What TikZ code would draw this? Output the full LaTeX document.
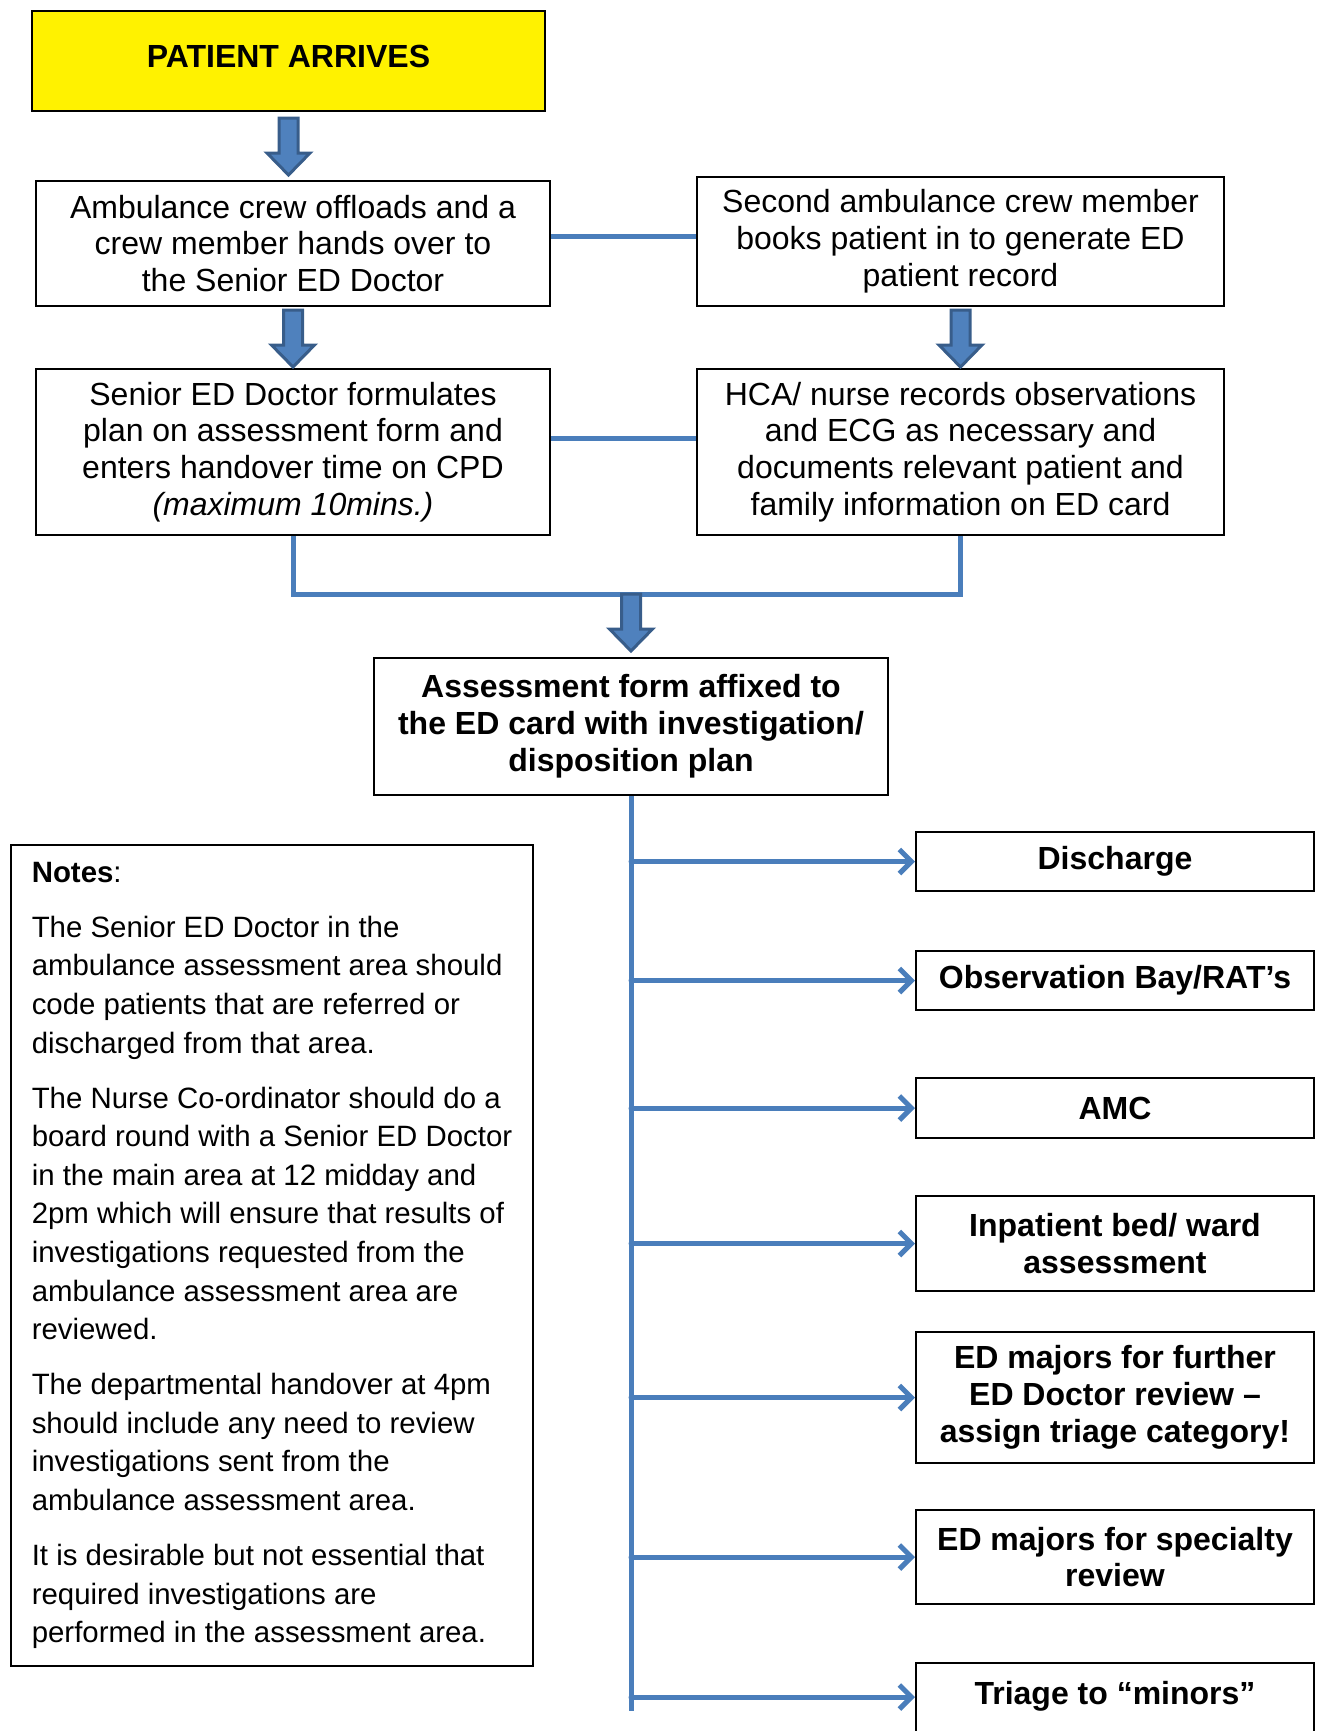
\documentclass[tikz,border=0pt]{standalone}
\usepackage{fontspec}
\setmainfont{Liberation Sans}
\usetikzlibrary{arrows.meta,positioning}

\definecolor{flowblue}{HTML}{4A7EBB}
\definecolor{arrowfill}{HTML}{4F81BD}
\definecolor{arrowline}{HTML}{385D8A}

\tikzset{
  box/.style={draw=black, line width=1pt, align=center, inner xsep=4pt, inner ysep=5.3pt,
    font=\fontsize{16}{18.4}\selectfont},
  outbox/.style={box, font=\bfseries\fontsize{16}{18.4}\selectfont, minimum width=199pt},
  link/.style={flowblue, line width=2.5pt},
  branch/.style={link, line cap=round, -{Straight Barb[length=6pt,width=12pt]}},
  downarrow/.pic={
    \filldraw[fill=arrowfill, draw=arrowline, line width=1.5pt, line join=miter]
      (-9.5,0) -- (9.5,0) -- (9.5,35) -- (21.5,35) -- (0,57) -- (-21.5,35) -- (-9.5,35) -- cycle;
  }
}

\begin{document}
\begin{tikzpicture}[x=0.5pt, y=-0.5pt]
        \clip (0,0) rectangle (1321,1731);

        % Top of the flow
        \node[box, fill=yellow, minimum width=256.5pt, minimum height=50pt,
              font=\bfseries\fontsize{16}{18.4}\selectfont] (arrive) at (288.5,61)
            {\raisebox{4.5pt}{PATIENT ARRIVES}};
        \node[box, minimum width=257pt, minimum height=62.5pt] (crew) at (293,243.5)
            {Ambulance crew offloads and a\\ crew member hands over to\\ the Senior ED Doctor};
        \node[box, minimum width=263.5pt, minimum height=64.5pt] (book) at (960.5,241.5)
            {Second ambulance crew member\\ books patient in to generate ED\\ patient record};
        \node[box, minimum width=257pt, minimum height=83pt] (plan) at (293,452)
            {Senior ED Doctor formulates\\ plan on assessment form and\\ enters handover time on CPD\\ \textit{(maximum 10mins.)}};
        \node[box, minimum width=263.5pt, minimum height=83pt] (obs) at (960.5,452)
            {HCA/ nurse records observations\\ and ECG as necessary and\\ documents relevant patient and\\ family information on ED card};
        \node[box, minimum width=257pt, minimum height=68.5pt,
              font=\bfseries\fontsize{16}{18.4}\selectfont] (form) at (631,726.5)
            {Assessment form affixed to\\ the ED card with investigation/\\ disposition plan};

        % Outcomes
        \node[outbox, minimum height=29.5pt] (dis) at (1115,861.5) {Discharge};
        \node[outbox, minimum height=29.5pt] (bay) at (1115,980.5) {Observation Bay/RAT’s};
        \node[outbox, minimum height=30pt] (amc) at (1115,1108) {AMC};
        \node[outbox, minimum height=47.5pt] (ward) at (1115,1243.5) {Inpatient bed/ ward\\ assessment};
        \node[outbox, minimum height=65.5pt] (majors) at (1115,1397.5)
            {ED majors for further\\ ED Doctor review –\\ assign triage category!};
        \node[outbox, minimum height=47pt] (spec) at (1115,1557) {ED majors for specialty\\ review};
        \node[outbox, minimum height=48pt] (minors) at (1115,1711) {Triage to “minors”\\ \mbox{}};

        % Notes
        \node[box, align=left, anchor=north west, minimum width=261pt, inner xsep=9pt,
              minimum height=410.5pt, font=\fontsize{14.7}{19.3}\selectfont] (notes) at (10,844)
            {\textbf{Notes}:\\[8.2pt]
             The Senior ED Doctor in the\\ ambulance assessment area should\\ code patients that are referred or\\ discharged from that area.\\[8.2pt]
             The Nurse Co-ordinator should do a\\ board round with a Senior ED Doctor\\ in the main area at 12 midday and\\ 2pm which will ensure that results of\\ investigations requested from the\\ ambulance assessment area are\\ reviewed.\\[8.2pt]
             The departmental handover at 4pm\\ should include any need to review\\ investigations sent from the\\ ambulance assessment area.\\[8.2pt]
             It is desirable but not essential that\\ required investigations are\\ performed in the assessment area.};

        % Block arrows
        \path (arrive.south) ++(0,6) pic {downarrow};
        \path (crew.south) ++(0,3) pic {downarrow};
        \path (book.south) ++(0,3) pic {downarrow};

        % Side links and merge
        \draw[link] ([yshift=3.75pt]crew.east) -- ([yshift=2.75pt]book.west);
        \draw[link] ([yshift=7pt]plan.east) -- ([yshift=7pt]obs.west);
        \draw[link] (plan.south) -- ++(0,58) coordinate (merge) -| (obs.south);
        \path (form.north |- merge) pic {downarrow};

        % Branches to the outcomes
        \draw[link] (form.south) -- (form.south |- minors.west);
        \foreach \out in {dis, bay, amc, ward, majors, spec}
            \draw[branch] (form.south |- \out.west) -- (\out.west);
        \draw[branch] ([yshift=7pt]form.south |- minors.west) -- ([yshift=7pt]minors.west);
    \end{tikzpicture}
\end{document}
